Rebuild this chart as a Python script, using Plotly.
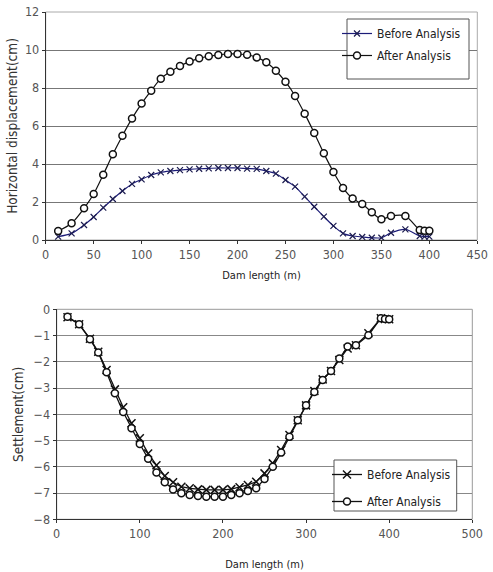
import plotly.graph_objects as go

# ---- data ----
dam_length = [13, 27, 40, 50, 60, 70, 80, 90, 100, 110, 120, 130, 140, 150, 160, 170,
              180, 190, 200, 210, 220, 230, 240, 250, 260, 270, 280, 290, 300, 310, 320,
              330, 340, 350, 360, 375, 390, 395, 400]

hd_before = [0.18, 0.35, 0.79, 1.21, 1.70, 2.16, 2.58, 2.95, 3.19, 3.42, 3.56, 3.63, 3.68,
             3.72, 3.75, 3.77, 3.79, 3.79, 3.79, 3.76, 3.74, 3.63, 3.49, 3.16, 2.81, 2.28,
             1.75, 1.23, 0.74, 0.35, 0.21, 0.16, 0.12, 0.12, 0.38, 0.56, 0.21, 0.18, 0.18]

hd_after = [0.47, 0.88, 1.67, 2.42, 3.44, 4.51, 5.49, 6.40, 7.18, 7.86, 8.49, 8.86, 9.16,
            9.39, 9.56, 9.67, 9.74, 9.79, 9.79, 9.75, 9.61, 9.35, 8.91, 8.33, 7.58, 6.65,
            5.63, 4.56, 3.58, 2.74, 2.18, 1.89, 1.46, 1.09, 1.26, 1.26, 0.53, 0.49, 0.49]

st_before = [-0.30, -0.57, -1.12, -1.62, -2.31, -3.05, -3.73, -4.34, -4.91, -5.49, -5.94,
             -6.35, -6.59, -6.76, -6.82, -6.86, -6.88, -6.88, -6.88, -6.85, -6.78, -6.69,
             -6.57, -6.25, -5.87, -5.36, -4.79, -4.23, -3.66, -3.11, -2.67, -2.35, -1.93,
             -1.49, -1.37, -0.91, -0.34, -0.37, -0.38]

st_after = [-0.28, -0.57, -1.14, -1.65, -2.40, -3.20, -3.91, -4.53, -5.13, -5.69, -6.22,
            -6.59, -6.86, -7.01, -7.07, -7.11, -7.14, -7.14, -7.14, -7.07, -7.01, -6.92,
            -6.82, -6.46, -6.00, -5.46, -4.86, -4.23, -3.66, -3.15, -2.69, -2.35, -1.87,
            -1.42, -1.37, -0.99, -0.34, -0.37, -0.38]

series_names = ["Before Analysis", "After Analysis"]
top_x_ticks = [0, 50, 100, 150, 200, 250, 300, 350, 400, 450]
bot_x_ticks = [0, 100, 200, 300, 400, 500]

FAM = "DejaVu Sans Condensed, Liberation Sans Narrow, Liberation Sans, sans-serif"
TICKFONT = dict(family=FAM, size=12.5, color="#555")
XTITLEFONT = dict(family=FAM, size=11, color="#222")
YTITLEFONT = dict(family=FAM, size=13.5, color="#333")
LEGFONT = dict(family=FAM, size=12, color="#222")

fig = go.Figure()

# top chart
fig.add_trace(go.Scatter(
    x=dam_length, y=hd_before, name=series_names[0], mode="lines+markers",
    line=dict(color="#1c1c78", width=1.2, shape="spline", smoothing=0.8),
    marker=dict(symbol="x-thin", size=6, line=dict(color="#1c1c50", width=1.2)),
    xaxis="x", yaxis="y", legend="legend", legendgroup="a"))
fig.add_trace(go.Scatter(
    x=dam_length, y=hd_after, name=series_names[1], mode="lines+markers",
    line=dict(color="#111", width=1.2, shape="spline", smoothing=0.8),
    marker=dict(symbol="circle", size=7, color="white", line=dict(color="#111", width=1.5)),
    xaxis="x", yaxis="y", legend="legend", legendgroup="b"))

# bottom chart
fig.add_trace(go.Scatter(
    x=dam_length, y=st_before, name=series_names[0], mode="lines+markers",
    line=dict(color="#111", width=1.3),
    marker=dict(symbol="x-thin", size=8, line=dict(color="#111", width=1.5)),
    xaxis="x2", yaxis="y2", legend="legend2", legendgroup="c"))
fig.add_trace(go.Scatter(
    x=dam_length, y=st_after, name=series_names[1], mode="lines+markers",
    line=dict(color="#111", width=1.3),
    marker=dict(symbol="circle", size=7, color="white", line=dict(color="#111", width=1.5)),
    xaxis="x2", yaxis="y2", legend="legend2", legendgroup="d"))

# body margin is removed via post_script, so figure coords = page coords
W, H = 493, 572


def px(v):
    return v / W


def py(v):
    return 1 - v / H


top_x = [px(45.7), px(477.3)]
top_y = [py(240), py(12)]
bot_x = [px(56.7), px(472.3)]
bot_y = [py(519.3), py(309.3)]

axis_common = dict(showline=True, linecolor="#333", linewidth=1, mirror=False,
                   ticks="outside", ticklen=3, tickcolor="#333", tickfont=TICKFONT,
                   zeroline=False, automargin=False, ticklabeloverflow="allow")

fig.update_layout(
    width=W, height=H, margin=dict(l=0, r=0, t=0, b=0),
    paper_bgcolor="white", plot_bgcolor="white",
    xaxis=dict(domain=top_x, range=[0, 450], tickvals=top_x_ticks, showgrid=False,
               anchor="y", title=dict(text="Dam length (m)", font=XTITLEFONT, standoff=10),
               **axis_common),
    yaxis=dict(domain=top_y, range=[0, 12], dtick=2, showgrid=True, gridcolor="#777",
               gridwidth=1, anchor="x",
               title=dict(text="Horizontal displacement(cm)", font=YTITLEFONT, standoff=4),
               **axis_common),
    xaxis2=dict(domain=bot_x, range=[0, 500], tickvals=bot_x_ticks, showgrid=False,
                anchor="y2", title=dict(text="Dam length (m)", font=XTITLEFONT, standoff=20),
                **axis_common),
    yaxis2=dict(domain=bot_y, range=[-8, 0], dtick=1, showgrid=True, gridcolor="#888",
                gridwidth=1, anchor="x2",
                title=dict(text="Settlement(cm)", font=YTITLEFONT, standoff=6),
                **axis_common),
    legend=dict(x=px(337), y=py(19), xanchor="left", yanchor="top",
                bgcolor="rgba(0,0,0,0)", borderwidth=0, font=LEGFONT,
                itemwidth=30, tracegroupgap=3),
    legend2=dict(x=px(327), y=py(460), xanchor="left", yanchor="top",
                 bgcolor="rgba(0,0,0,0)", borderwidth=0, font=LEGFONT,
                 itemwidth=30, tracegroupgap=8),
    showlegend=True,
    shapes=[
        dict(type="rect", xref="paper", yref="paper", x0=top_x[0], x1=top_x[1],
             y0=top_y[0], y1=top_y[1], line=dict(color="#aaa", width=1), layer="below"),
        dict(type="rect", xref="paper", yref="paper", x0=bot_x[0], x1=bot_x[1],
             y0=bot_y[0], y1=bot_y[1], line=dict(color="#999", width=1), layer="below"),
        # legend boxes
        dict(type="rect", xref="paper", yref="paper", x0=px(347), x1=px(469),
             y0=py(79), y1=py(19), line=dict(color="#555", width=1),
             fillcolor="white", layer="above"),
        dict(type="rect", xref="paper", yref="paper", x0=px(334), x1=px(456.7),
             y0=py(511), y1=py(460), line=dict(color="#555", width=1),
             fillcolor="white", layer="above"),
    ],
)

fig.write_html("out.html", config={"displayModeBar": False},
               post_script="document.body.style.margin='0';")
